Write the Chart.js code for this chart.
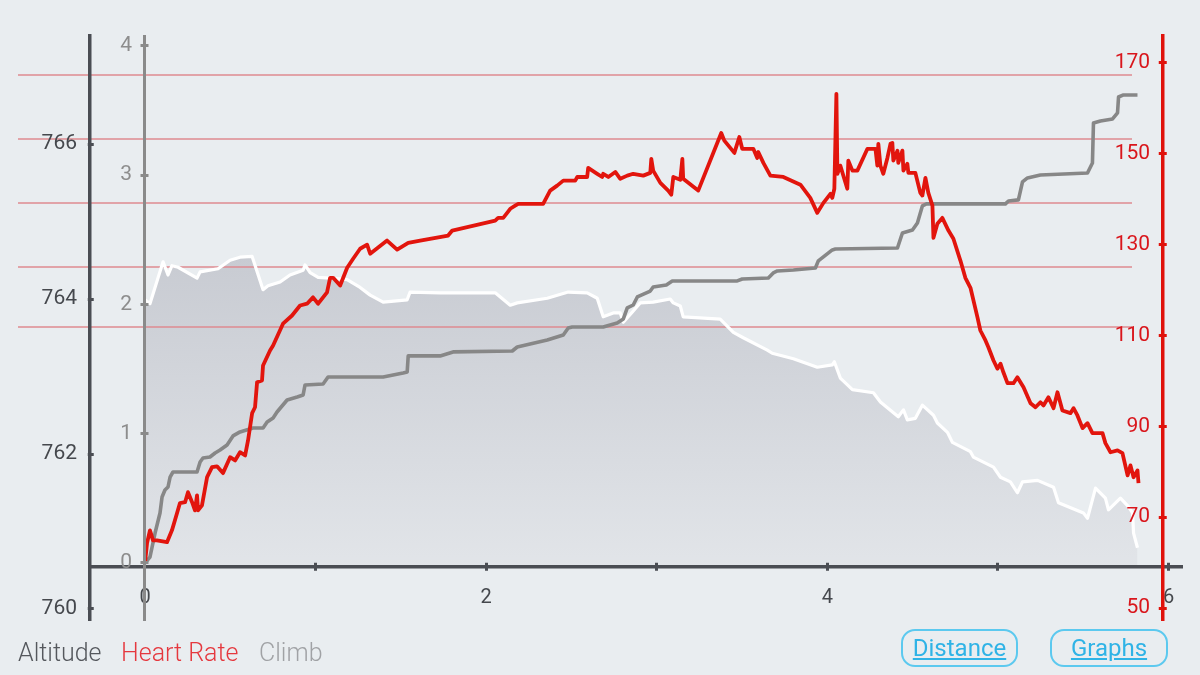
<!DOCTYPE html>
<html>
<head>
<meta charset="utf-8">
<script src="https://cdn.jsdelivr.net/npm/chart.js@4.4.1/dist/chart.umd.min.js"></script>
<style>
html,body{margin:0;padding:0;}
body{width:1200px;height:675px;overflow:hidden;background:#e9edf0;position:relative;font-family:Roboto,"Noto Sans",sans-serif;}
#c{position:absolute;left:0;top:0;}
.leg{position:absolute;top:637px;font-size:25px;font-weight:300;line-height:32px;white-space:nowrap;}
.btn{position:absolute;top:629px;height:34px;border:2px solid #5cc9ef;border-radius:14px;color:#2fb3e6;font-size:24px;text-decoration:underline;text-align:center;line-height:34px;}
</style>
</head>
<body>
<canvas id="c" width="1200" height="675"></canvas>
<div class="leg" style="left:18px;color:#55585d;">Altitude</div>
<div class="leg" style="left:121px;color:#e5383e;">Heart Rate</div>
<div class="leg" style="left:259px;color:#a0a2a5;">Climb</div>
<div class="btn" style="left:901px;width:113px;">Distance</div>
<div class="btn" style="left:1050px;width:114px;">Graphs</div>
<script>
// ---------- data (distance in km) ----------
const altDist = [
 0,0.029,0.106,0.135,0.158,0.194,0.305,0.323,0.428,0.499,
 0.557,0.628,0.692,0.721,0.792,0.850,0.927,0.938,0.968,1.015,
 1.085,1.185,1.261,1.320,1.396,1.537,1.554,1.730,2.053,2.141,
 2.182,2.358,2.481,2.592,2.651,2.686,2.745,2.786,2.804,2.856,
 2.903,2.979,3.079,3.097,3.138,3.155,3.372,3.449,3.507,3.648,
 3.677,3.801,3.941,4.029,4.041,4.076,4.147,4.270,4.311,4.416,
 4.446,4.469,4.516,4.557,4.622,4.645,4.704,4.733,4.839,4.856,
 4.974,5.015,5.073,5.114,5.144,5.232,5.326,5.355,5.501,5.525,
 5.572,5.630,5.648,5.718,5.765,5.789,5.795,5.818];
const altValues = [
 763.99,763.94,764.48,764.31,764.43,764.41,764.27,764.35,764.39,764.50,
 764.54,764.55,764.12,764.17,764.22,764.31,764.37,764.44,764.34,764.28,
 764.27,764.25,764.15,764.05,763.96,763.99,764.09,764.08,764.08,763.92,
 763.95,764.01,764.09,764.08,764.01,763.77,763.82,763.82,763.70,763.83,
 763.95,763.96,764.00,763.95,763.91,763.77,763.74,763.57,763.50,763.34,
 763.30,763.23,763.12,763.15,763.19,762.98,762.83,762.79,762.67,762.48,
 762.57,762.44,762.46,762.63,762.50,762.40,762.28,762.15,762.03,761.96,
 761.83,761.70,761.64,761.50,761.64,761.66,761.57,761.37,761.24,761.17,
 761.56,761.43,761.28,761.43,761.32,761.24,760.98,760.79];

const climbDist = [
 0,0.029,0.059,0.088,0.100,0.117,0.135,0.147,0.164,0.305,
 0.323,0.340,0.381,0.411,0.440,0.481,0.516,0.557,0.633,0.692,
 0.716,0.751,0.774,0.833,0.892,0.927,0.938,1.044,1.073,1.396,
 1.513,1.537,1.543,1.730,1.806,2.153,2.182,2.358,2.452,2.481,
 2.504,2.686,2.768,2.804,2.827,2.862,2.886,2.962,2.979,3.056,
 3.091,3.472,3.501,3.654,3.683,3.707,3.801,3.930,3.947,4.029,
 4.047,4.411,4.440,4.499,4.528,4.557,4.581,5.044,5.062,5.120,
 5.144,5.173,5.249,5.525,5.554,5.560,5.601,5.672,5.701,5.707,
 5.736,5.818];
const climbValues = [
 0,0.046,0.232,0.387,0.511,0.565,0.588,0.665,0.704,0.704,
 0.781,0.812,0.820,0.851,0.874,0.913,0.983,1.014,1.044,1.044,
 1.091,1.122,1.168,1.261,1.284,1.300,1.377,1.385,1.439,1.439,
 1.470,1.478,1.602,1.602,1.633,1.640,1.671,1.725,1.764,1.818,
 1.826,1.826,1.857,1.888,1.973,1.996,2.058,2.104,2.135,2.151,
 2.182,2.182,2.197,2.205,2.244,2.259,2.267,2.282,2.337,2.422,
 2.429,2.437,2.553,2.576,2.631,2.762,2.778,2.778,2.801,2.809,
 2.948,2.979,3.002,3.017,3.095,3.404,3.420,3.435,3.482,3.605,
 3.621,3.621];

const hrDist = [
 0,0.012,0.029,0.047,0.070,0.129,0.158,0.188,0.205,0.235,
 0.252,0.276,0.293,0.305,0.311,0.334,0.364,0.393,0.422,0.457,
 0.499,0.528,0.557,0.587,0.604,0.628,0.645,0.657,0.686,0.692,
 0.733,0.751,0.809,0.862,0.909,0.950,0.985,1.015,1.067,1.085,
 1.103,1.144,1.185,1.220,1.261,1.302,1.320,1.419,1.478,1.543,
 1.613,1.777,1.801,2.053,2.070,2.100,2.123,2.141,2.170,2.188,
 2.334,2.375,2.416,2.452,2.522,2.534,2.592,2.598,2.651,2.680,
 2.686,2.716,2.757,2.786,2.827,2.862,2.921,2.962,2.968,2.979,
 3.021,3.067,3.085,3.097,3.138,3.150,3.155,3.243,3.378,3.396,
 3.455,3.484,3.501,3.566,3.589,3.595,3.625,3.666,3.742,3.842,
 3.900,3.941,3.977,4.018,4.029,4.041,4.053,4.059,4.076,4.117,
 4.123,4.147,4.176,4.235,4.282,4.293,4.299,4.311,4.328,4.352,
 4.370,4.381,4.387,4.411,4.416,4.440,4.446,4.469,4.475,4.516,
 4.545,4.557,4.575,4.592,4.616,4.622,4.645,4.674,4.710,4.739,
 4.780,4.809,4.839,4.880,4.897,4.927,4.944,4.974,4.997,5.015,
 5.032,5.056,5.091,5.114,5.150,5.191,5.220,5.249,5.267,5.296,
 5.326,5.349,5.378,5.425,5.443,5.466,5.496,5.525,5.554,5.613,
 5.630,5.660,5.701,5.730,5.760,5.777,5.795,5.818,5.824];
const hrValues = [
 59.9,64.3,67.1,64.9,64.9,64.5,67.1,70.9,73.1,73.3,
 75.5,73.3,71.5,74.8,71.5,72.6,78.8,81.0,81.2,79.7,
 83.2,82.5,84.3,83.6,86.9,92.9,94.2,99.7,100.1,103.4,
 106.7,107.8,112.6,114.4,116.6,117.0,118.4,117.0,119.5,122.7,
 122.7,121.0,124.9,126.9,129.1,130.0,128.0,130.9,128.9,130.4,
 130.9,132.0,133.1,135.3,135.9,135.9,137.0,137.9,138.6,139.0,
 139.0,141.9,143.0,144.1,144.1,144.9,144.9,146.9,145.6,144.9,
 145.6,144.9,146.0,144.5,145.2,145.6,145.2,145.8,148.9,146.3,
 143.6,141.9,141.0,144.9,144.3,148.9,144.5,141.9,154.6,152.9,
 150.2,153.7,151.1,151.1,149.1,150.4,148.0,145.2,144.9,143.2,
 140.3,137.0,139.2,141.2,140.3,142.3,163.2,145.6,147.4,142.3,
 148.5,146.3,146.3,151.1,151.1,147.4,152.2,147.4,145.6,149.1,
 152.2,152.4,148.5,150.7,148.0,150.7,146.3,147.8,145.8,145.8,
 141.4,140.8,144.7,141.4,138.6,131.5,134.6,135.9,133.1,131.3,
 126.5,122.7,120.5,114.0,111.1,108.9,107.4,104.5,102.7,103.8,
 101.9,99.5,99.5,100.8,98.6,95.1,94.2,95.3,94.6,96.4,
 94.0,97.5,93.5,92.9,94.0,92.4,89.6,90.7,88.5,88.5,
 86.3,84.3,84.7,84.1,79.2,81.4,78.8,80.3,77.5];

// ---------- tick labels ----------
const xTicks = [0,1,2,3,4,5,6];
const altTicks = [760,762,764,766];
const climbTicks = [0,1,2,3,4];
const hrTicks = [50,70,90,110,130,150,170];
// heart-rate zone lines (bpm)
const hrZones = [167.3,153.2,139.2,125.1,111.9];

// ---------- axis look: ticks crossing the axis line, labels clear of it ----------
const TICK_LEN = 8;
const LABEL_GAP = 13;
class AxisLinear extends Chart.LinearScale {
  _computeGridLineItems(area) {
    const items = super._computeGridLineItems(area);
    const half = (this.options.border.width || 0) / 2;
    const d = TICK_LEN / 2 + half;
    items.forEach(it => {
      if (this.isHorizontal()) { it.ty1 -= d; it.ty2 -= d; }
      else { it.tx1 += d; it.tx2 += d; }
    });
    return items;
  }
  _computeLabelItems(area) {
    const items = super._computeLabelItems(area);
    const pos = this.options.position;
    if (!this.isHorizontal() && typeof pos === 'object') {
      items.forEach(it => { it.options.translation[0] -= LABEL_GAP; });
    }
    return items;
  }
}
AxisLinear.id = 'axisLinear';
AxisLinear.defaults = Chart.LinearScale.defaults;
Chart.register(AxisLinear);

// ---------- chart ----------
const toPts = (xs, ys) => xs.map((x, i) => ({x: x, y: ys[i]}));
const FONT = 'Roboto';
const DARK = '#4a4d53';
const ALT_BASE = 760.54;
const ZONE_X_END = 5.786;

const zonePlugin = {
  id: 'hrZones',
  beforeDatasetsDraw(chart) {
    const s = chart.scales.yHR, xs = chart.scales.x, c = chart.ctx;
    const x0 = 18, x1 = xs.getPixelForValue(ZONE_X_END);
    c.save();
    c.strokeStyle = '#de8a90';
    c.lineWidth = 1.5;
    hrZones.forEach(v => {
      const y = Math.round(s.getPixelForValue(v));
      c.beginPath(); c.moveTo(x0, y); c.lineTo(x1, y); c.stroke();
    });
    c.restore();
  }
};

const altFill = (ctx) => {
  const chart = ctx.chart, a = chart.chartArea;
  if (!a) return 'rgba(0,0,0,0)';
  const g = chart.ctx.createLinearGradient(0, a.top + 220, 0, a.bottom - 50);
  g.addColorStop(0, '#c8cbd2');
  g.addColorStop(1, '#e2e5e9');
  return g;
};

const tickFn = arr => (s) => { s.ticks = arr.map(v => ({value: v})); };
const gridOpt = col => ({drawOnChartArea: false, tickLength: TICK_LEN, tickWidth: 3, tickColor: col, z: 1});

new Chart(document.getElementById('c'), {
  type: 'line',
  data: {
    datasets: [
      {label: 'Heart Rate', data: toPts(hrDist, hrValues), yAxisID: 'yHR',
       borderColor: '#e2150d', borderWidth: 3.8, pointRadius: 0, fill: false,
       tension: 0, borderJoinStyle: 'round', order: 1},
      {label: 'Climb', data: toPts(climbDist, climbValues), yAxisID: 'yClimb',
       borderColor: '#878787', borderWidth: 3.6, pointRadius: 0, fill: false,
       tension: 0, borderJoinStyle: 'round', order: 2},
      {label: 'Altitude', data: toPts(altDist, altValues), yAxisID: 'yAlt',
       borderColor: '#ffffff', borderWidth: 3.2, pointRadius: 0,
       fill: {value: ALT_BASE}, backgroundColor: altFill,
       tension: 0, borderJoinStyle: 'round', order: 3}
    ]
  },
  options: {
    responsive: false,
    animation: false,
    events: [],
    layout: {padding: {left: 0, right: 18, top: 36, bottom: 55}},
    plugins: {
      legend: {display: false},
      tooltip: {enabled: false},
      filler: {drawTime: 'beforeDatasetsDraw'}
    },
    scales: {
      x: {
        type: 'axisLinear', min: -0.3224, max: 6.079,
        position: {yClimb: -0.031},
        afterBuildTicks: tickFn(xTicks),
        grid: gridOpt(DARK),
        border: {display: true, color: DARK, width: 3.5, z: 1},
        ticks: {color: '#45484d', font: {family: FONT, size: 20}, padding: 11, z: 1,
                autoSkip: false, maxRotation: 0,
                callback: v => (v % 2 === 0 ? String(v) : '')}
      },
      yAlt: {
        type: 'axisLinear', position: 'left', min: 759.858, max: 767.394,
        afterBuildTicks: tickFn(altTicks),
        afterFit: s => { s.width = 90; },
        grid: gridOpt(DARK),
        border: {display: true, color: DARK, width: 3.5, z: 1},
        ticks: {color: '#45484d', font: {family: FONT, size: 21}, padding: 5, z: 1}
      },
      yClimb: {
        type: 'axisLinear', position: {x: 0}, min: -0.441, max: 4.077,
        afterBuildTicks: tickFn(climbTicks),
        grid: gridOpt('#8a8a8a'),
        border: {display: true, color: '#8a8a8a', width: 3, z: 1},
        ticks: {color: '#8d8d8d', font: {family: FONT, size: 21}, padding: 5, z: 1}
      },
      yHR: {
        type: 'axisLinear', position: {x: 5.968}, min: 47.36, max: 175.94,
        afterBuildTicks: tickFn(hrTicks),
        grid: gridOpt('#e0120b'),
        border: {display: true, color: '#e0120b', width: 3.5, z: 1},
        ticks: {color: '#d9161c', font: {family: FONT, size: 21}, padding: 5, z: 1}
      }
    }
  },
  plugins: [zonePlugin]
});
</script>
</body>
</html>
